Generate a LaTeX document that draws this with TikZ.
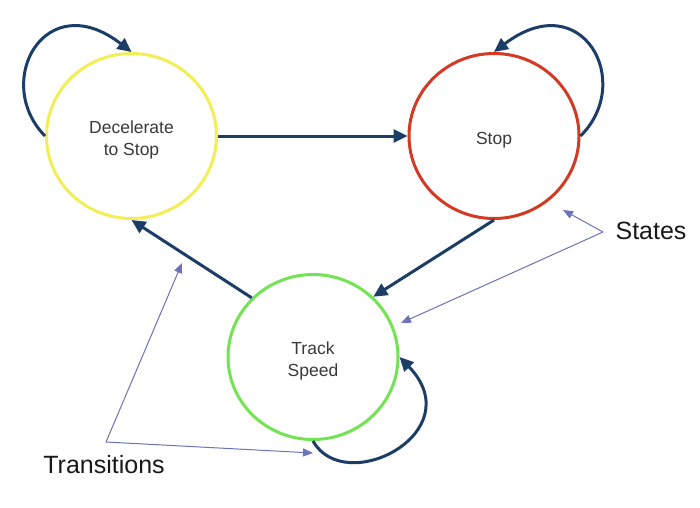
\documentclass[tikz,border=0pt]{standalone}
\usepackage{fontspec}
\setmainfont{Liberation Sans}
\usetikzlibrary{arrows.meta,shapes.geometric}
\definecolor{navy}{HTML}{1C3D66}
\definecolor{slate}{HTML}{6B74B8}
\definecolor{stY}{HTML}{F2EE55}
\definecolor{stR}{HTML}{D23A24}
\definecolor{stG}{HTML}{72E352}
\definecolor{txt}{HTML}{3A3A3A}
\tikzset{
  state/.style={ellipse,minimum width=170pt,minimum height=165pt,inner sep=0pt,line width=3pt},
  statetext/.style={font=\fontsize{17.5}{22}\selectfont,text=txt,align=center,yshift=-4pt},
  trans/.style={draw=navy,line width=3pt,-{Triangle[length=14pt,width=13pt]}},
  note/.style={draw=slate,line width=1pt,-{Triangle[length=10pt,width=8pt]}},
  lbl/.style={font=\fontsize{25}{30}\selectfont,text=black!90}
}
\begin{document}
\begin{tikzpicture}[x=1pt,y=-1pt]
\useasboundingbox[fill=white] (0,0) rectangle (700,507);
\node[state,draw=stY,label={[statetext]center:{Decelerate\\to Stop}}] (dec) at (131.5,136) {};
\node[state,draw=stR,label={[statetext]center:Stop}] (stop) at (494,136) {};
\node[state,draw=stG,label={[statetext]center:{Track\\Speed}}] (track) at (313,357) {};
% transitions
\draw[trans] (dec.east) -- (stop.west);
\draw[trans] (stop.south) -- (track.45);
\draw[trans] (track.136) -- (dec.south);
\draw[trans] (dec.west) .. controls (-8,82) and (45,-15) .. (dec.north);
\draw[trans] (stop.east) .. controls (635,82) and (582,-15) .. (stop.north);
\draw[trans] (track.south) .. controls (345,498) and (472,432) .. (track.0);
% labels
\node[lbl] (states) at (651,231) {States};
\node[lbl] (transitions) at (104,465) {Transitions};
\coordinate (sv) at (603,232);
\coordinate (st1) at (563,210);
\coordinate (st2) at (401,323);
\coordinate (tv) at (106,442);
\coordinate (tt1) at (182,263);
\coordinate (tt2) at (313,453);
\draw[note] (sv) -- (st1);
\draw[note] (sv) -- (st2);
\draw[note] (tv) -- (tt1);
\draw[note] (tv) -- (tt2);
\end{tikzpicture}
\end{document}
